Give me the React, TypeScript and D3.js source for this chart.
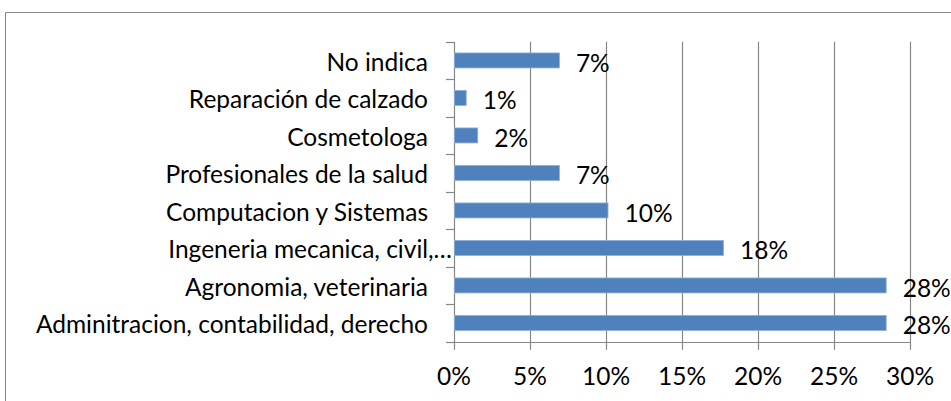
import React, { useEffect, useRef } from 'react';
import * as d3 from 'd3';

const categories = [
  'No indica',
  'Reparación de calzado',
  'Cosmetologa',
  'Profesionales de la salud',
  'Computacion y Sistemas',
  'Ingeneria mecanica, civil,…',
  'Agronomia, veterinaria',
  'Adminitracion, contabilidad, derecho'
];
const values = [0.069, 0.0077, 0.0153, 0.069, 0.101, 0.177, 0.284, 0.284];
const xTicks = [0, 0.05, 0.1, 0.15, 0.2, 0.25, 0.3];

const W = 951;
const H = 401;
const FONT = 'Lato, "Open Sans", sans-serif';
const FS = '24.5px';

const App: React.FC = () => {
  const svgRef = useRef<SVGSVGElement>(null);

  useEffect(() => {
    if (!svgRef.current) return;
    const svg = d3.select(svgRef.current);
    svg.selectAll('*').remove();

    const left = 454;
    const right = 910;
    const top = 41.7;
    const bottom = 341.7;
    const grid = '#878787';

    // chart frame
    svg.append('path')
      .attr('d', `M5.5,${H} V12.5 H${W}`)
      .attr('fill', 'none')
      .attr('stroke', grid)
      .attr('stroke-width', 1);

    const x = d3.scaleLinear().domain([0, 0.3]).range([left, right]);
    const y = d3.scaleBand().domain(categories).range([top, bottom]).padding(0);

    // gridlines
    svg.append('g')
      .selectAll('line')
      .data(xTicks)
      .enter()
      .append('line')
      .attr('x1', d => Math.round(x(d)) + 0.5)
      .attr('x2', d => Math.round(x(d)) + 0.5)
      .attr('y1', top)
      .attr('y2', bottom + 8)
      .attr('stroke', grid)
      .attr('stroke-width', 1.2);

    // category axis ticks
    const bounds = categories.map(c => y(c) as number).concat([bottom]);
    svg.append('g')
      .selectAll('line')
      .data(bounds)
      .enter()
      .append('line')
      .attr('x1', left - 8)
      .attr('x2', left)
      .attr('y1', d => Math.round(d) + 0.5)
      .attr('y2', d => Math.round(d) + 0.5)
      .attr('stroke', grid)
      .attr('stroke-width', 1.2);

    svg.append('line')
      .attr('x1', left - 8)
      .attr('x2', right)
      .attr('y1', Math.round(bottom) + 0.5)
      .attr('y2', Math.round(bottom) + 0.5)
      .attr('stroke', grid)
      .attr('stroke-width', 1.2);

    // bars
    const bw = y.bandwidth();
    const barH = bw * 0.4;
    svg.append('g')
      .selectAll('rect')
      .data(categories)
      .enter()
      .append('rect')
      .attr('x', left + 0.5)
      .attr('y', c => (y(c) as number) + (bw - barH) / 2)
      .attr('width', (c, i) => x(values[i]) - left)
      .attr('height', barH)
      .attr('fill', '#4f81bd')
      .attr('stroke', '#8eaedb')
      .attr('stroke-width', 0.8);

    // category labels
    svg.append('g')
      .selectAll('text')
      .data(categories)
      .enter()
      .append('text')
      .attr('x', c => (c.endsWith('…') ? left - 2 : left - 26))
      .attr('y', c => (y(c) as number) + bw / 2 + 1)
      .attr('text-anchor', 'end')
      .attr('dominant-baseline', 'central')
      .style('font-family', FONT)
      .style('font-size', FS)
      .style('fill', '#000')
      .text(c => c);

    // value labels
    const fmt = d3.format('.0%');
    svg.append('g')
      .selectAll('text')
      .data(categories)
      .enter()
      .append('text')
      .attr('x', (c, i) => x(values[i]) + 17)
      .attr('y', c => (y(c) as number) + bw / 2 + 2)
      .attr('dominant-baseline', 'central')
      .style('font-family', FONT)
      .style('font-size', FS)
      .style('fill', '#000')
      .text((c, i) => fmt(values[i]));

    // x tick labels
    svg.append('g')
      .selectAll('text')
      .data(xTicks)
      .enter()
      .append('text')
      .attr('x', d => x(d))
      .attr('y', 375)
      .attr('text-anchor', 'middle')
      .attr('dominant-baseline', 'central')
      .style('font-family', FONT)
      .style('font-size', FS)
      .style('fill', '#000')
      .text(d => fmt(d));
  }, []);

  return (
    <svg
      ref={svgRef}
      width={W}
      height={H}
      style={{ position: 'absolute', left: 0, top: 0, background: '#fff' }}
    />
  );
};

export default App;
